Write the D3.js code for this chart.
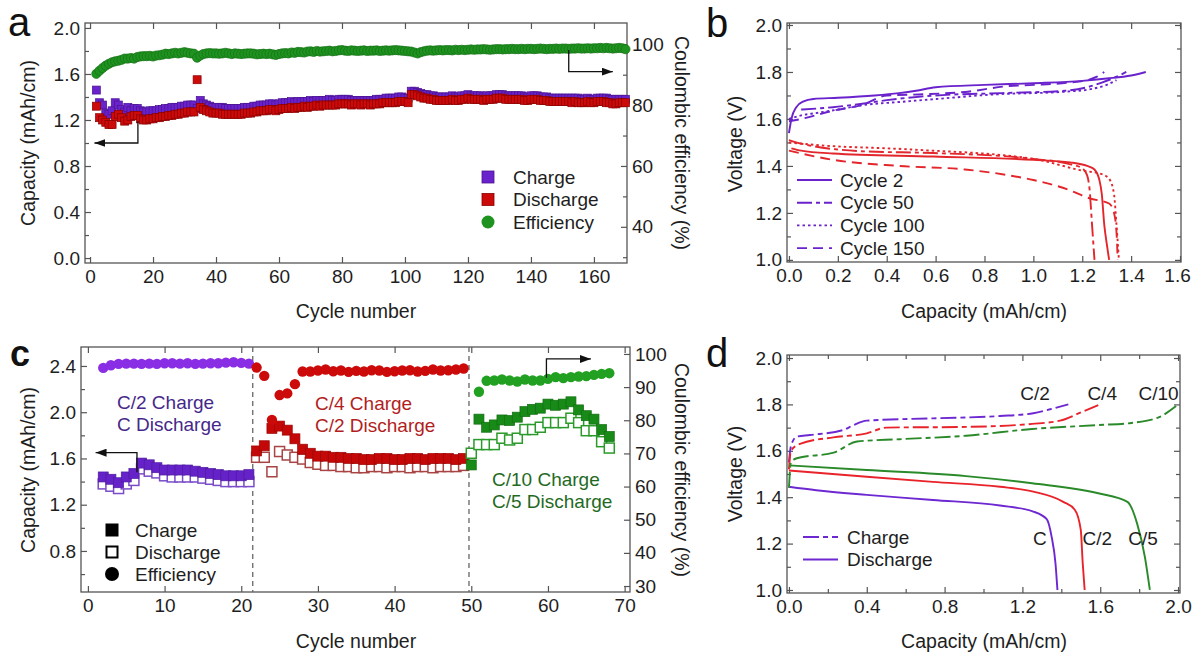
<!DOCTYPE html>
<html>
<head>
<meta charset="utf-8">
<script src="https://cdn.jsdelivr.net/npm/d3@7"></script>
<style>
body{margin:0;background:#fff;}
svg{display:block;background:#fff;font-family:"Liberation Sans",Arial,Helvetica,sans-serif;}
.tick text{font-size:19px;fill:#1e1e1e;}
.tick line{stroke:#555;stroke-width:1.2;}
.domain{display:none;}
.ttl{font-size:19.5px;fill:#1e1e1e;}
.lbl{font-size:19px;fill:#1e1e1e;}
</style>
</head>
<body>
<svg id="fig" width="1192" height="653"></svg>
<script>
// ---------- panel a : cycling at one rate (cycles 2..170) ----------
var aFirstCycle = 2
var aCharge = [1.46,1.35,1.33,1.26,1.25,1.28,1.35,1.33,1.29,1.27,
  1.31,1.28,1.30,1.30,1.28,1.27,1.27,1.28,1.28,1.28,
  1.29,1.29,1.30,1.30,1.31,1.31,1.31,1.32,1.32,1.33,
  1.33,1.33,1.30,1.37,1.34,1.33,1.32,1.31,1.31,1.31,
  1.31,1.30,1.30,1.30,1.30,1.30,1.30,1.31,1.31,1.31,
  1.32,1.32,1.33,1.33,1.33,1.34,1.34,1.33,1.34,1.35,
  1.35,1.35,1.36,1.35,1.36,1.36,1.36,1.36,1.37,1.36,
  1.37,1.37,1.37,1.37,1.38,1.37,1.37,1.38,1.38,1.38,
  1.38,1.37,1.37,1.37,1.37,1.37,1.37,1.37,1.37,1.38,
  1.38,1.38,1.39,1.39,1.39,1.39,1.40,1.40,1.39,1.39,
  1.45,1.45,1.44,1.43,1.42,1.42,1.41,1.41,1.40,1.40,
  1.40,1.40,1.40,1.41,1.40,1.40,1.41,1.41,1.42,1.41,
  1.41,1.41,1.41,1.40,1.41,1.41,1.41,1.42,1.42,1.42,
  1.41,1.41,1.41,1.41,1.41,1.41,1.40,1.40,1.41,1.41,
  1.41,1.40,1.40,1.40,1.39,1.39,1.39,1.39,1.39,1.39,
  1.39,1.39,1.39,1.39,1.38,1.38,1.39,1.38,1.38,1.39,
  1.39,1.39,1.39,1.38,1.38,1.38,1.38,1.38,1.38]
var aDischarge = [1.32,1.22,1.20,1.18,1.16,1.16,1.23,1.25,1.22,1.19,
  1.20,1.23,1.24,1.24,1.21,1.20,1.20,1.21,1.21,1.22,
  1.22,1.23,1.23,1.24,1.24,1.25,1.25,1.26,1.26,1.27,
  1.27,1.27,1.55,1.31,1.29,1.28,1.27,1.26,1.26,1.26,
  1.25,1.25,1.25,1.25,1.25,1.25,1.25,1.26,1.26,1.26,
  1.27,1.27,1.28,1.28,1.28,1.29,1.29,1.28,1.29,1.30,
  1.30,1.30,1.31,1.30,1.31,1.31,1.32,1.31,1.32,1.32,
  1.33,1.32,1.33,1.33,1.33,1.33,1.33,1.34,1.34,1.34,
  1.34,1.33,1.34,1.34,1.33,1.34,1.34,1.33,1.34,1.34,
  1.34,1.35,1.35,1.35,1.35,1.35,1.36,1.36,1.36,1.35,
  1.42,1.42,1.41,1.40,1.39,1.39,1.38,1.38,1.37,1.37,
  1.37,1.37,1.37,1.38,1.37,1.37,1.38,1.38,1.39,1.38,
  1.38,1.38,1.38,1.37,1.38,1.38,1.38,1.39,1.39,1.39,
  1.38,1.38,1.38,1.38,1.38,1.38,1.37,1.37,1.38,1.38,
  1.38,1.37,1.37,1.37,1.36,1.36,1.36,1.36,1.36,1.36,
  1.36,1.35,1.36,1.35,1.35,1.35,1.36,1.35,1.35,1.36,
  1.36,1.36,1.35,1.35,1.34,1.34,1.35,1.35,1.35]
var aEfficiency = [90.3,91.3,92.2,93.0,93.6,94.1,94.4,94.6,94.9,95.3,
  95.3,95.5,95.3,95.8,96.0,96.1,96.1,96.2,96.0,96.3,
  96.4,96.6,96.9,96.8,97.0,97.2,97.0,97.2,97.4,97.2,
  97.0,96.9,95.6,96.3,96.8,97.0,97.1,97.0,97.0,96.9,
  97.0,97.2,97.0,96.8,97.0,96.9,96.8,96.9,97.0,97.0,
  96.9,96.7,96.8,96.9,96.8,96.9,96.7,96.5,96.8,97.0,
  97.1,97.0,97.3,97.2,97.5,97.4,97.3,97.6,97.7,97.5,
  97.8,97.6,97.7,97.8,97.9,97.7,97.8,98.0,98.1,97.9,
  97.8,98.0,97.9,97.8,97.9,98.0,97.8,97.9,97.9,98.0,
  97.8,97.9,98.0,97.9,98.0,98.1,98.0,97.9,97.8,97.7,
  97.6,97.3,97.0,97.4,97.7,97.9,98.0,97.9,98.0,98.1,
  98.0,98.1,98.1,98.0,98.2,98.1,98.2,98.1,98.2,98.3,
  98.2,98.3,98.3,98.4,98.3,98.2,98.3,98.4,98.4,98.3,
  98.4,98.4,98.5,98.4,98.4,98.5,98.4,98.5,98.5,98.4,
  98.5,98.6,98.5,98.4,98.5,98.5,98.6,98.5,98.6,98.6,
  98.5,98.6,98.6,98.7,98.6,98.6,98.7,98.6,98.7,98.7,
  98.8,98.7,98.8,98.7,98.6,98.7,98.8,98.7,98.4]
var aLegend = ["Charge","Discharge","Efficiency"]
var aArrowLeft = [[15.2,1.19],[15.2,1.0],[1.4,1.0]]      // cycle, capacity
var aArrowRight = [[152,98.1],[152,91],[166,91]]         // cycle, efficiency

// ---------- panel b : voltage profiles [capacity, voltage] ----------
var bLegend = ["Cycle 2","Cycle 50","Cycle 100","Cycle 150"]
var bCharge2 = [[0.0,1.54],[0.01,1.60],[0.03,1.65],[0.06,1.675],[0.1,1.685],[0.2,1.69],[0.35,1.70],[0.45,1.71],[0.52,1.72],[0.6,1.735],[0.8,1.745],[1.0,1.752],[1.2,1.762],[1.3,1.772],[1.4,1.785],[1.46,1.80]]
var bCharge50 = [[0.05,1.64],[0.18,1.65],[0.3,1.665],[0.4,1.68],[0.6,1.70],[0.87,1.71],[1.13,1.72],[1.22,1.735],[1.28,1.755],[1.33,1.775],[1.38,1.80]]
var bCharge100 = [[0.0,1.60],[0.05,1.615],[0.11,1.625],[0.2,1.64],[0.31,1.66],[0.45,1.672],[0.58,1.683],[0.85,1.705],[1.13,1.716],[1.24,1.728],[1.3,1.745],[1.34,1.765]]
var bCharge150 = [[0.0,1.59],[0.05,1.60],[0.18,1.635],[0.3,1.66],[0.4,1.70],[0.55,1.705],[0.72,1.715],[0.9,1.74],[1.0,1.745],[1.15,1.755],[1.22,1.765],[1.26,1.78],[1.29,1.80]]
var bDischarge2 = [[0.01,1.475],[0.05,1.465],[0.18,1.453],[0.59,1.44],[1.0,1.426],[1.15,1.415],[1.22,1.40],[1.25,1.385],[1.27,1.34],[1.28,1.28],[1.29,1.15],[1.30,1.07],[1.31,1.0]]
var bDischarge50 = [[0.0,1.51],[0.05,1.495],[0.31,1.462],[0.59,1.455],[1.0,1.43],[1.14,1.41],[1.2,1.39],[1.22,1.36],[1.23,1.30],[1.24,1.15],[1.25,1.0]]
var bDischarge100 = [[0.0,1.50],[0.1,1.49],[0.5,1.47],[1.0,1.43],[1.2,1.38],[1.28,1.365],[1.31,1.345],[1.33,1.28],[1.34,1.15],[1.35,1.0]]
var bDischarge150 = [[0.0,1.465],[0.18,1.426],[0.45,1.40],[0.72,1.385],[0.9,1.36],[1.0,1.34],[1.14,1.30],[1.23,1.262],[1.31,1.24],[1.33,1.20],[1.34,1.12],[1.345,1.0]]

// ---------- panel c : rate test ----------
var cCharge1 = [1.44,1.42,1.39,1.44,1.47,1.56,1.545,1.52,1.50,1.50,1.50,1.50,1.49,1.48,1.47,1.46,1.45,1.45,1.45,1.46]
var cDischarge1 = [1.38,1.36,1.34,1.38,1.41,1.51,1.49,1.475,1.45,1.44,1.44,1.44,1.44,1.43,1.42,1.41,1.40,1.40,1.40,1.40]
var cEff1 = [95.8,96.6,97.0,97.1,97.1,97.0,97.1,97.0,97.2,97.2,97.1,97.2,97.0,97.1,97.2,97.2,97.4,97.5,97.3,97.1]
var cCharge2 = [1.665,1.71,1.86,1.88,1.845,1.77,1.68,1.645,1.62,1.62,1.61,1.61,1.60,1.60,1.59,1.59,1.60,1.60,1.59,1.59,1.60,1.60,1.59,1.60,1.60,1.60,1.59,1.60]
var cDischarge2 = [1.61,1.61,1.485,1.66,1.63,1.61,1.595,1.565,1.55,1.54,1.54,1.53,1.53,1.52,1.52,1.53,1.53,1.52,1.53,1.53,1.52,1.53,1.53,1.52,1.53,1.53,1.53,1.54]
var cEff2 = [95.9,93.4,80.1,87.6,88.1,90.9,94.7,94.7,95.0,95.3,94.8,95.0,94.6,94.9,94.7,95.1,95.0,94.6,94.8,95.0,95.1,94.7,94.9,95.3,95.0,95.1,95.3,95.6]
var cCharge3 = [1.544,1.94,1.87,1.89,1.933,1.928,1.957,2.005,2.025,2.035,2.07,2.06,2.07,2.09,2.02,1.97,1.94,1.85,1.79]
var cDischarge3 = [1.645,1.72,1.72,1.72,1.775,1.76,1.775,1.85,1.85,1.87,1.91,1.91,1.91,1.948,1.91,1.84,1.84,1.745,1.69]
var cEff3 = [88.6,91.9,92.0,92.3,92.0,91.7,92.3,92.0,92.0,92.5,93.0,92.7,93.0,93.2,93.3,93.7,94.0,94.2]
var cStartCycles = [2,22,50]
var cEffStartCycles = [2,22,51]
var cDividers = [21.5,49.7]
var cRateLabels = [["C/2 Charge","C Discharge"],["C/4 Charge","C/2 Discharge"],["C/10 Charge","C/5 Discharge"]]
var cLegend = ["Charge","Discharge","Efficiency"]
var cArrowLeft = [[6.4,1.48],[6.4,1.65],[1.0,1.65]]
var cArrowRight = [[59.8,92.8],[59.8,98.5],[65.6,98.5]]

// ---------- panel d : profiles at each rate ----------
var dChargeLabels = ["C/2","C/4","C/10"]
var dDischargeLabels = ["C","C/2","C/5"]
var dChargeC2 = [[0.0,1.55],[0.01,1.62],[0.04,1.661],[0.108,1.668],[0.28,1.69],[0.33,1.71],[0.40,1.73],[0.74,1.74],[1.085,1.75],[1.256,1.762],[1.342,1.779],[1.436,1.80]]
var dChargeC4 = [[0.0,1.52],[0.01,1.60],[0.057,1.63],[0.228,1.658],[0.40,1.675],[0.5,1.70],[0.91,1.703],[1.25,1.716],[1.393,1.73],[1.513,1.77],[1.59,1.797]]
var dChargeC10 = [[0.0,1.44],[0.01,1.55],[0.04,1.568],[0.23,1.592],[0.35,1.64],[0.57,1.65],[0.91,1.665],[1.25,1.694],[1.59,1.711],[1.76,1.72],[1.90,1.744],[1.99,1.793]]
var dDischargeC = [[0.0,1.445],[0.14,1.43],[0.40,1.41],[0.74,1.388],[1.085,1.364],[1.256,1.338],[1.325,1.305],[1.35,1.23],[1.37,1.115],[1.38,1.0]]
var dDischargeC2 = [[0.0,1.515],[0.40,1.488],[0.74,1.466],[1.085,1.445],[1.256,1.424],[1.41,1.38],[1.47,1.345],[1.50,1.259],[1.51,1.115],[1.52,1.0]]
var dDischargeC5 = [[0.0,1.537],[0.40,1.517],[0.91,1.491],[1.25,1.46],[1.59,1.417],[1.74,1.38],[1.79,1.285],[1.83,1.14],[1.855,1.0]]
var dLegend = ["Charge","Discharge"]
var dChargeLabelPos = [[1.265,1.849],[1.61,1.849],[1.90,1.849]]
var dDischargeLabelPos = [[1.29,1.224],[1.585,1.224],[1.82,1.224]]

var purple = "#6a22cc", red = "#cc0a0a", green = "#1f931f"
var svg = d3.select("#fig")

var defs = svg.append("defs")
defs.append("marker").attr("id","arrow")
    .attr("viewBox","0 0 11 8").attr("refX",11).attr("refY",4)
    .attr("markerWidth",11).attr("markerHeight",8)
    .attr("markerUnits","userSpaceOnUse").attr("orient","auto")
    .append("path").attr("d","M0,0 L11,4 L0,8 z").attr("fill","#111")

//builds a frame with scales
var makePanel = function(box, xDom, yDom){
    var g = svg.append("g").attr("transform","translate("+box.x0+","+box.y0+")")
    var w = box.x1-box.x0, h = box.y1-box.y0
    return {g:g, w:w, h:h,
        x:d3.scaleLinear().domain(xDom).range([0,w]),
        y:d3.scaleLinear().domain(yDom).range([h,0])}
}

//inward ticks on every side, like the original plotting program
var drawAxes = function(p, o){
    var g = p.g
    if(o.xMinor){
        g.append("g").attr("transform","translate(0,"+p.h+")")
            .call(d3.axisBottom(p.x).tickValues(o.xMinor).tickSize(-4).tickFormat(""))
        g.append("g").call(d3.axisTop(p.x).tickValues(o.xMinor).tickSize(-4).tickFormat(""))
    }
    p.xAxis = g.append("g").attr("transform","translate(0,"+p.h+")")
        .call(d3.axisBottom(p.x).tickValues(o.xMajor).tickSize(-6).tickPadding(7).tickFormat(d3.format(o.xFmt)))
    g.append("g").call(d3.axisTop(p.x).tickValues(o.xMajor).tickSize(-6).tickFormat(""))

    g.append("g").call(d3.axisLeft(p.y).tickValues(o.yMinor).tickSize(-4).tickFormat(""))
    g.append("g").call(d3.axisLeft(p.y).tickValues(o.yMajor).tickSize(-6).tickPadding(5).tickFormat(d3.format(o.yFmt)))
    if(o.yR){
        g.append("g").attr("transform","translate("+p.w+",0)")
            .call(d3.axisRight(o.yR).tickValues(o.yRMinor).tickSize(-4).tickFormat(""))
        g.append("g").attr("transform","translate("+p.w+",0)")
            .call(d3.axisRight(o.yR).tickValues(o.yRMajor).tickSize(-6).tickPadding(5).tickFormat(d3.format("d")))
    } else {
        g.append("g").attr("transform","translate("+p.w+",0)")
            .call(d3.axisRight(p.y).tickValues(o.yMinor).tickSize(-4).tickFormat(""))
        g.append("g").attr("transform","translate("+p.w+",0)")
            .call(d3.axisRight(p.y).tickValues(o.yMajor).tickSize(-6).tickFormat(""))
    }
    g.append("rect").attr("width",p.w).attr("height",p.h)
        .attr("fill","none").attr("stroke","#555").attr("stroke-width",1.3)
}

var title = function(txt, x, y, rot){
    svg.append("text").attr("class","ttl")
        .attr("transform","translate("+x+","+y+") rotate("+rot+")")
        .attr("text-anchor","middle").attr("dominant-baseline","central")
        .text(txt)
}

var panelLetter = function(txt, x, y, size, weight){
    svg.append("text").attr("x",x).attr("y",y)
        .attr("font-size",size).attr("font-weight",weight).attr("fill","#111").text(txt)
}

var arrowPath = function(g, pts, xs, ys){
    g.append("path")
        .attr("d", d3.line().x(function(d){return xs(d[0])}).y(function(d){return ys(d[1])})(pts))
        .attr("fill","none").attr("stroke","#111").attr("stroke-width",1.3)
        .attr("marker-end","url(#arrow)")
}

// ================= panel a =================
var drawA = function(){
    var p = makePanel({x0:85,y0:23,x1:627,y1:263}, [-1.6,170.5], [-0.043,2.043])
    var yR = d3.scaleLinear().domain([28.1,107]).range([p.h,0])
    drawAxes(p, {xMajor:d3.range(0,161,20), xFmt:"d",
        yMajor:[0,0.4,0.8,1.2,1.6,2.0], yMinor:[0.2,0.6,1.0,1.4,1.8], yFmt:".1f",
        yR:yR, yRMajor:[40,60,80,100], yRMinor:[30,50,70,90]})

    var sq = 8
    p.g.append("g").selectAll("rect").data(aCharge).enter().append("rect")
        .attr("x",function(d,i){return p.x(aFirstCycle+i)-sq/2})
        .attr("y",function(d){return p.y(d)-sq/2})
        .attr("width",sq).attr("height",sq)
        .attr("fill",purple).attr("stroke","#4a1590").attr("stroke-width",0.7)
    p.g.append("g").selectAll("rect").data(aDischarge).enter().append("rect")
        .attr("x",function(d,i){return p.x(aFirstCycle+i)-sq/2})
        .attr("y",function(d){return p.y(d)-sq/2})
        .attr("width",sq).attr("height",sq)
        .attr("fill",red).attr("stroke","#8a0000").attr("stroke-width",0.7)
    p.g.append("g").selectAll("circle").data(aEfficiency).enter().append("circle")
        .attr("cx",function(d,i){return p.x(aFirstCycle+i)})
        .attr("cy",function(d){return yR(d)})
        .attr("r",4.6)
        .attr("fill",green).attr("stroke","#157015").attr("stroke-width",0.7)

    arrowPath(p.g, aArrowLeft, p.x, p.y)
    arrowPath(p.g, aArrowRight, p.x, yR)

    //legend
    var lg = svg.append("g").attr("transform","translate(488,177)")
    var colors = [purple, red, green]
    aLegend.forEach(function(t,i){
        if(i<2){
            lg.append("rect").attr("x",-6).attr("y",i*22.5-6).attr("width",12).attr("height",12)
                .attr("fill",colors[i]).attr("stroke",i==0?"#4a1590":"#8a0000").attr("stroke-width",0.8)
        } else {
            lg.append("circle").attr("cx",0).attr("cy",i*22.5).attr("r",6.5).attr("fill",colors[i])
        }
        lg.append("text").attr("class","lbl").attr("x",25).attr("y",i*22.5)
            .attr("dominant-baseline","central").text(t)
    })

    title("Cycle number", 356, 311, 0)
    title("Capacity (mAh/cm)", 28, 143, -90)
    title("Coulombic efficiency (%)", 682, 143, 90)
    panelLetter("a", 8, 36, 40, "normal")
}

// ================= panel b =================
var drawB = function(){
    var p = makePanel({x0:787,y0:23,x1:1181,y1:262}, [-0.008,1.604], [0.991,2.0085])
    drawAxes(p, {xMajor:[0,0.2,0.4,0.6,0.8,1.0,1.2,1.4,1.6], xFmt:".1f",
        yMajor:[1.0,1.2,1.4,1.6,1.8,2.0], yMinor:[1.1,1.3,1.5,1.7,1.9], yFmt:".1f"})
    //last label sits on the page edge
    p.xAxis.selectAll(".tick text").filter(function(d){return d==1.6}).attr("dx",-3)
    var dashes = [null,"15,4,4,4","2.5,3","10,6"]
    var charges = [bCharge2,bCharge50,bCharge100,bCharge150]
    var discharges = [bDischarge2,bDischarge50,bDischarge100,bDischarge150]
    var line = d3.line().x(function(d){return p.x(d[0])}).y(function(d){return p.y(d[1])}).curve(d3.curveMonotoneX)
    discharges.forEach(function(c,i){
        p.g.append("path").attr("d",line(c)).attr("fill","none")
            .attr("stroke","#e3262b").attr("stroke-width",1.9).attr("stroke-dasharray",dashes[i])
    })
    charges.forEach(function(c,i){
        p.g.append("path").attr("d",line(c)).attr("fill","none")
            .attr("stroke",purple).attr("stroke-width",1.9).attr("stroke-dasharray",dashes[i])
    })
    var lg = svg.append("g").attr("transform","translate(797,180)")
    bLegend.forEach(function(t,i){
        lg.append("line").attr("x1",0).attr("x2",35).attr("y1",i*22.7).attr("y2",i*22.7)
            .attr("stroke",purple).attr("stroke-width",1.9).attr("stroke-dasharray",dashes[i])
        lg.append("text").attr("class","lbl").attr("x",43).attr("y",i*22.7)
            .attr("dominant-baseline","central").text(t)
    })
    title("Capacity (mAh/cm)", 984, 311, 0)
    title("Voltage (V)", 735, 144, -90)
    panelLetter("b", 706, 37, 40, "normal")
}

// ================= panel c =================
var drawC = function(){
    var p = makePanel({x0:81,y0:347,x1:630,y1:592}, [-0.9,70.7], [0.445,2.564])
    var yR = d3.scaleLinear().domain([28.2,102.1]).range([p.h,0])
    drawAxes(p, {xMajor:d3.range(0,71,10), xFmt:"d",
        yMajor:[0.8,1.2,1.6,2.0,2.4], yMinor:[0.6,1.0,1.4,1.8,2.2], yFmt:".1f",
        yR:yR, yRMajor:d3.range(30,101,10), yRMinor:[]})

    p.g.append("g").selectAll("line").data(cDividers).enter().append("line")
        .attr("x1",function(d){return p.x(d)}).attr("x2",function(d){return p.x(d)})
        .attr("y1",0).attr("y2",p.h)
        .attr("stroke","#666").attr("stroke-width",1.3).attr("stroke-dasharray","5,4")

    var segs = [
        {charge:cCharge1, dis:cDischarge1, eff:cEff1, fill:"#6422c8", open:"#7a4cc8", eCol:"#8a2ee6", txt:"#46288a"},
        {charge:cCharge2, dis:cDischarge2, eff:cEff2, fill:"#c40808", open:"#a84444", eCol:"#cc0a0a", txt:"#b21e1e"},
        {charge:cCharge3, dis:cDischarge3, eff:cEff3, fill:"#178a17", open:"#2a9a2a", eCol:"#22a022", txt:"#1f6a1f"}]
    var sq = 10
    segs.forEach(function(s,k){
        p.g.append("g").selectAll("rect").data(s.dis).enter().append("rect")
            .attr("x",function(d,i){return p.x(cStartCycles[k]+i)-sq/2})
            .attr("y",function(d){return p.y(d)-sq/2})
            .attr("width",sq).attr("height",sq)
            .attr("fill","#fff").attr("stroke",s.open).attr("stroke-width",1.5)
        p.g.append("g").selectAll("rect").data(s.charge).enter().append("rect")
            .attr("x",function(d,i){return p.x(cStartCycles[k]+i)-sq/2})
            .attr("y",function(d){return p.y(d)-sq/2})
            .attr("width",sq).attr("height",sq)
            .attr("fill",s.fill).attr("stroke",d3.color(s.fill).darker(0.6)).attr("stroke-width",0.7)
        p.g.append("g").selectAll("circle").data(s.eff).enter().append("circle")
            .attr("cx",function(d,i){return p.x(cEffStartCycles[k]+i)})
            .attr("cy",function(d){return yR(d)})
            .attr("r",5.2).attr("fill",s.eCol)
    })

    arrowPath(p.g, cArrowLeft, p.x, p.y)
    arrowPath(p.g, cArrowRight, p.x, yR)

    //rate labels
    var labelPos = [[117,402],[315,403],[492,479]]
    cRateLabels.forEach(function(pair,k){
        pair.forEach(function(t,j){
            svg.append("text").attr("class","lbl").attr("x",labelPos[k][0]).attr("y",labelPos[k][1]+j*22.5)
                .attr("dominant-baseline","central").style("fill",segs[k].txt).text(t)
        })
    })

    //legend
    var lg = svg.append("g").attr("transform","translate(112,530)")
    lg.append("rect").attr("x",-6.5).attr("y",-6.5).attr("width",13).attr("height",13).attr("fill","#000")
    lg.append("rect").attr("x",-5.5).attr("y",22-5.5).attr("width",11).attr("height",11)
        .attr("fill","#fff").attr("stroke","#000").attr("stroke-width",2)
    lg.append("circle").attr("cx",0).attr("cy",44).attr("r",7).attr("fill","#000")
    cLegend.forEach(function(t,i){
        lg.append("text").attr("class","lbl").attr("x",23).attr("y",i*22)
            .attr("dominant-baseline","central").text(t)
    })

    title("Cycle number", 356, 641, 0)
    title("Capacity (mAh/cm)", 28, 470, -90)
    title("Coulombic efficiency (%)", 682, 470, 90)
    panelLetter("c", 10, 366, 36, "bold")
}

// ================= panel d =================
var drawD = function(){
    var p = makePanel({x0:787,y0:355,x1:1180,y1:593}, [-0.01,2.01], [0.987,2.013])
    drawAxes(p, {xMajor:[0,0.4,0.8,1.2,1.6,2.0], xMinor:[0.2,0.6,1.0,1.4,1.8], xFmt:".1f",
        yMajor:[1.0,1.2,1.4,1.6,1.8,2.0], yMinor:[1.1,1.3,1.5,1.7,1.9], yFmt:".1f"})
    var cols = ["#6e28d2","#e8232a","#2a8a2a"]
    var line = d3.line().x(function(d){return p.x(d[0])}).y(function(d){return p.y(d[1])}).curve(d3.curveMonotoneX)
    var chargeDash = "16,4,5,4"
    ;[dDischargeC,dDischargeC2,dDischargeC5].forEach(function(c,i){
        p.g.append("path").attr("d",line(c)).attr("fill","none")
            .attr("stroke",cols[i]).attr("stroke-width",1.9)
    })
    ;[dChargeC2,dChargeC4,dChargeC10].forEach(function(c,i){
        p.g.append("path").attr("d",line(c)).attr("fill","none")
            .attr("stroke",cols[i]).attr("stroke-width",1.9).attr("stroke-dasharray",chargeDash)
    })
    dChargeLabels.forEach(function(t,i){
        p.g.append("text").attr("class","lbl").attr("text-anchor","middle").attr("dominant-baseline","central")
            .attr("x",p.x(dChargeLabelPos[i][0])).attr("y",p.y(dChargeLabelPos[i][1])).text(t)
    })
    dDischargeLabels.forEach(function(t,i){
        p.g.append("text").attr("class","lbl").attr("text-anchor","middle").attr("dominant-baseline","central")
            .attr("x",p.x(dDischargeLabelPos[i][0])).attr("y",p.y(dDischargeLabelPos[i][1])).text(t)
    })
    var lg = svg.append("g").attr("transform","translate(803,537)")
    dLegend.forEach(function(t,i){
        lg.append("line").attr("x1",0).attr("x2",35).attr("y1",i*22.5).attr("y2",i*22.5)
            .attr("stroke",cols[0]).attr("stroke-width",1.9).attr("stroke-dasharray",i==0?chargeDash:null)
        lg.append("text").attr("class","lbl").attr("x",44).attr("y",i*22.5)
            .attr("dominant-baseline","central").text(t)
    })
    title("Capacity (mAh/cm)", 984, 641, 0)
    title("Voltage (V)", 735, 474, -90)
    panelLetter("d", 706, 367, 40, "normal")
}

drawA()
drawB()
drawC()
drawD()
</script>
</body>
</html>
